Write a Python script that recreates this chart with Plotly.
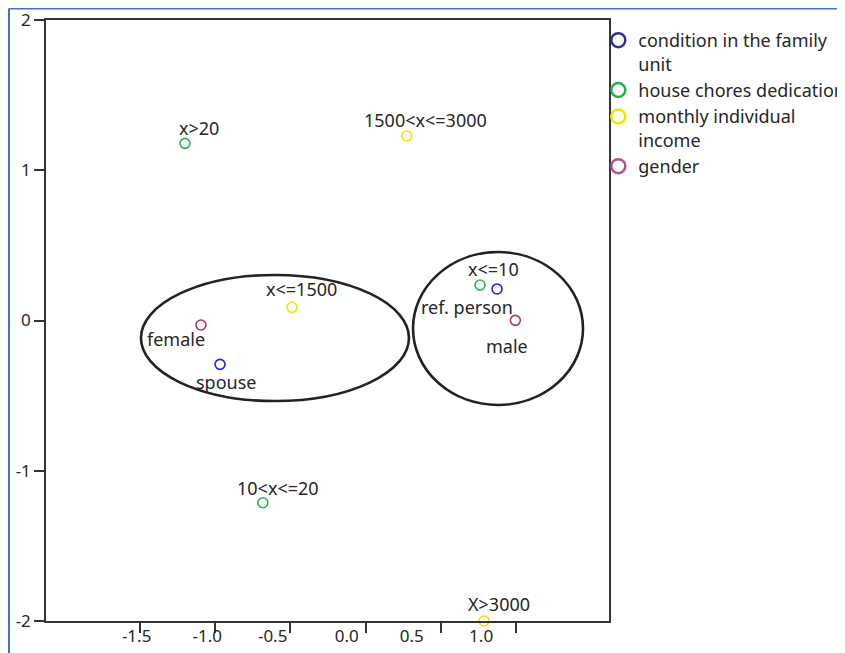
import plotly.graph_objects as go

# ---- data ----
series_names = ["condition in the family<br>unit", "house chores dedication",
                "monthly individual<br>income", "gender"]

cond_labels = ["spouse", "ref. person"]
cond_x = [-0.968, 0.875]
cond_y = [-0.292, 0.210]

chores_labels = ["x>20", "x<=10", "10<x<=20"]
chores_x = [-1.201, 0.762, -0.683]
chores_y = [1.179, 0.236, -1.213]

income_labels = ["1500<x<=3000", "x<=1500", "X>3000"]
income_x = [0.274, -0.489, 0.789]
income_y = [1.228, 0.088, -2.0]

gender_labels = ["female", "male"]
gender_x = [-1.095, 0.997]
gender_y = [-0.030, 0.001]

x_tick_marks = [-1.5, -1.0, -0.5, 0.0, 0.5, 1.0]
x_tick_label_pos = [-1.523, -1.053, -0.618, -0.125, 0.307, 0.769]
x_tick_text = ["-1.5", "-1.0", "-0.5", "0.0", "0.5", "1.0"]
y_ticks = [-2, -1, 0, 1, 2]
y_tick_text = ["-2", "-1", "0", "1", "2"]

# ---- styles ----
FONT = "Noto Sans"
TXT = "#262626"
plot_colors = ["#1f1fff", "#2ab34a", "#f2e200", "#b0306e"]
legend_colors = ["#2e3192", "#22b14c", "#f2e600", "#b3508f"]

# label offsets in pixels (dx, dy up)
offsets = {
    "spouse": (6, -18), "ref. person": (-30, -18),
    "x>20": (14, 15), "x<=10": (13, 16), "10<x<=20": (15, 15),
    "1500<x<=3000": (19, 16), "x<=1500": (9, 18), "X>3000": (15, 17),
    "female": (-25, -14), "male": (-8, -26),
}

fig = go.Figure()
groups = [(cond_labels, cond_x, cond_y), (chores_labels, chores_x, chores_y),
          (income_labels, income_x, income_y), (gender_labels, gender_x, gender_y)]

annotations = []
for i, (labs, xs, ys) in enumerate(groups):
    fig.add_trace(go.Scatter(
        x=xs, y=ys, mode="markers", showlegend=False, cliponaxis=False,
        marker=dict(symbol="circle-open", size=10, color=plot_colors[i],
                    line=dict(width=1.6, color=plot_colors[i])),
        hoverinfo="skip"))
    for lab, xv, yv in zip(labs, xs, ys):
        dx, dy = offsets[lab]
        annotations.append(dict(x=xv, y=yv, xref="x", yref="y", text=lab,
                                showarrow=False, xshift=dx, yshift=dy,
                                font=dict(family=FONT, size=18, color=TXT)))

# legend entries
for i, name in enumerate(series_names):
    fig.add_trace(go.Scatter(
        x=[None], y=[None], mode="markers", name=name,
        marker=dict(symbol="circle-open", size=14, color=legend_colors[i],
                    line=dict(width=2.5, color=legend_colors[i]))))

# dummy trace for overlay label axis
fig.add_trace(go.Scatter(x=[None], y=[None], xaxis="x2", showlegend=False))

xr = [-2.126, 1.620]
ell_style = dict(type="circle", xref="x", yref="y",
                 line=dict(color="#222222", width=2.6), layer="above")
shapes = [
    dict(x0=-1.494, x1=0.289, y0=-0.536, y1=0.303, **ell_style),
    dict(x0=0.316, x1=1.447, y0=-0.562, y1=0.456, **ell_style),
    # outer blue frame
    dict(type="line", xref="paper", yref="paper", x0=-0.0657, x1=1.5,
         y0=1.0191, y1=1.0191, line=dict(color="#4472c4", width=2)),
    dict(type="line", xref="paper", yref="paper", x0=-0.0657, x1=-0.0657,
         y0=-0.1, y1=1.0191, line=dict(color="#4472c4", width=2)),
]

# the page body has an 8px margin, so the figure is 8px smaller than the window
fig.update_layout(
    width=837, height=645,
    margin=dict(l=38, r=236, t=12, b=32, autoexpand=False),
    paper_bgcolor="white", plot_bgcolor="white",
    font=dict(family=FONT, size=17, color=TXT),
    xaxis=dict(range=xr, tickvals=x_tick_marks, showticklabels=False,
               ticks="outside", ticklen=10, tickwidth=1.5, tickcolor="#333",
               showline=True, linecolor="#333", linewidth=1.5, mirror=True,
               showgrid=False, zeroline=False),
    xaxis2=dict(range=xr, overlaying="x", anchor="y", side="bottom",
                tickvals=x_tick_label_pos, ticktext=x_tick_text, ticks="",
                showline=False, showgrid=False, zeroline=False,
                ticklabeloverflow="allow", ticklabelstandoff=3,
                tickfont=dict(family=FONT, size=17, color=TXT)),
    yaxis=dict(range=[-2, 2], tickvals=y_ticks, ticktext=y_tick_text,
               ticks="outside", ticklen=10, tickwidth=1.5, tickcolor="#333",
               showline=True, linecolor="#333", linewidth=1.5, mirror=True,
               showgrid=False, zeroline=False, ticklabeloverflow="allow",
               tickfont=dict(family=FONT, size=17, color=TXT)),
    legend=dict(x=0.981, y=0.9967, xanchor="left", yanchor="top",
                bgcolor="rgba(0,0,0,0)", borderwidth=0, valign="top",
                font=dict(family=FONT, size=18, color=TXT), itemwidth=30),
    shapes=shapes, annotations=annotations,
)

fig.write_html("out.html")
